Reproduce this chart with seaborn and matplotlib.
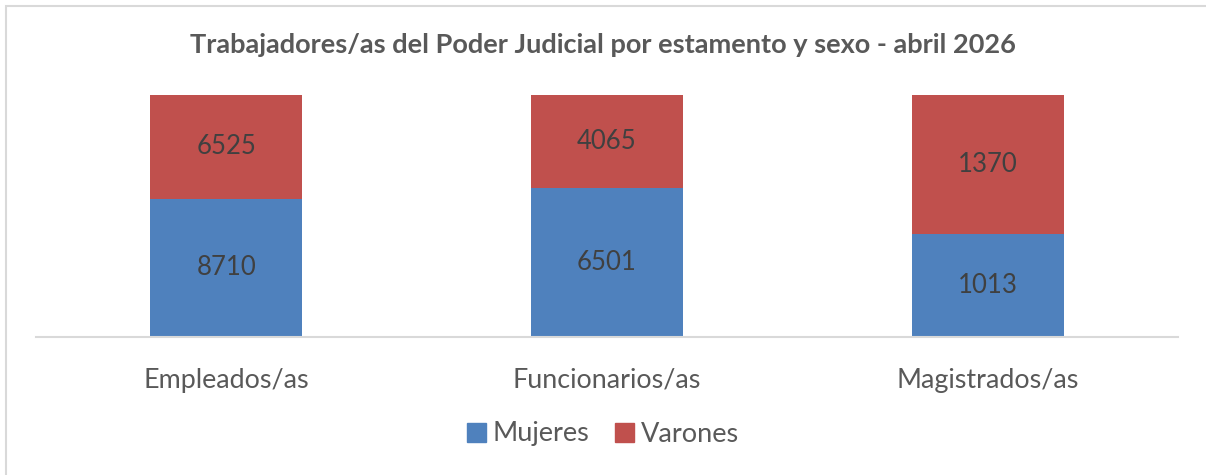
import matplotlib.pyplot as plt
import matplotlib.patches as mpatches
import pandas as pd
import seaborn as sns

categories = ["Empleados/as", "Funcionarios/as", "Magistrados/as"]
mujeres = [8710, 6501, 1013]
varones = [6525, 4065, 1370]
series_names = ["Mujeres", "Varones"]
title = "Trabajadores/as del Poder Judicial por estamento y sexo - abril 2026"

BLUE = "#4F81BD"
RED = "#C0504D"
TEXT = "#595959"

df = pd.DataFrame({"estamento": categories, "mujeres": mujeres, "varones": varones})
df["total"] = df["mujeres"] + df["varones"]
df["p_muj"] = df["mujeres"] / df["total"]
df["p_full"] = 1.0

sns.set_theme(style="white")
plt.rcParams["font.family"] = ["Lato", "DejaVu Sans"]

fig = plt.figure(figsize=(12.06, 4.75), dpi=100)
ax = fig.add_axes([36 / 1206, 1 - 337 / 475, 1142 / 1206, 242 / 475])

# red bar = full 100%, blue bar drawn over it = share of women
sns.barplot(data=df, x="estamento", y="p_full", color=RED, width=0.4, saturation=1,
            linewidth=0, ax=ax)
sns.barplot(data=df, x="estamento", y="p_muj", color=BLUE, width=0.4, saturation=1,
            linewidth=0, ax=ax)

for i, row in df.iterrows():
    ax.text(i, row["p_muj"] / 2, f"{row['mujeres']}", ha="center", va="center",
            fontsize=18.5, color="#404040")
    ax.text(i, row["p_muj"] + (1 - row["p_muj"]) / 2, f"{row['varones']}", ha="center",
            va="center", fontsize=18.5, color="#404040")

ax.set_ylim(0, 1.0)
ax.set_xlim(-0.5, 2.5)
ax.set_yticks([])
ax.set_xlabel("")
ax.set_ylabel("")
for side in ["top", "right", "left"]:
    ax.spines[side].set_visible(False)
ax.spines["bottom"].set_color("#D9D9D9")
ax.spines["bottom"].set_linewidth(1.5)
ax.tick_params(axis="x", length=0, pad=22, labelsize=19.4, labelcolor=TEXT)

fig.text(0.5, 1 - 45 / 475, title, ha="center", va="center", fontsize=19.5,
         fontweight="bold", color=TEXT)

handles = [mpatches.Patch(color=BLUE, label=series_names[0]),
           mpatches.Patch(color=RED, label=series_names[1])]
fig.legend(handles=handles, loc="center", bbox_to_anchor=(0.5, 1 - 434 / 475), ncol=2,
           frameon=False, fontsize=19.5, labelcolor=TEXT, handlelength=0.7, handleheight=0.7,
           handletextpad=0.25, columnspacing=0.95)

# chart border
fig.add_artist(mpatches.Rectangle((6 / 1206, -0.1), 1.2, 1 - 6 / 475 + 0.1, transform=fig.transFigure,
                                  fill=False, edgecolor="#D9D9D9", linewidth=1.5))

fig.savefig("out.png", dpi=100)
